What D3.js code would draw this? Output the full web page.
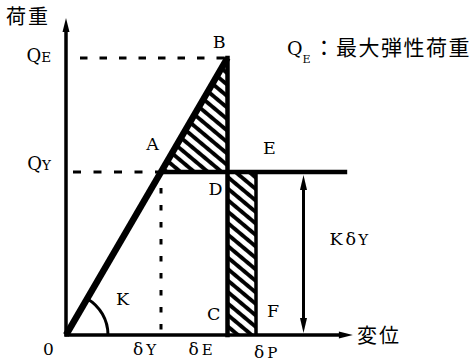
<!DOCTYPE html>
<html><head><meta charset="utf-8">
<script src="https://cdn.jsdelivr.net/npm/d3@7"></script>
<style>body{margin:0;background:#fff}svg{display:block}</style>
</head><body><svg id="c" width="470" height="361"></svg>
<script>
// ---- data (conceptual load–displacement diagram) ----
const xTickValues = [1.0, 1.7, 2.0];
const xTickSubs = ["Y", "E", "P"];
const yTickValues = [1.0, 1.7];
const yTickSubs = ["Y", "E"];
const elasticLine = [[0, 0], [1.7, 1.7]];
const unloadLine = [[1.7, 1.7], [1.7, 0]];
const yieldLine = [[1.0, 1.0], [2.96, 1.0]];
const plasticEdge = [[2.0, 1.0], [2.0, 0]];
const triangleArea = [[1.0, 1.0], [1.7, 1.7], [1.7, 1.0]];
const rectArea = [[1.7, 1.0], [2.0, 1.0], [2.0, 0], [1.7, 0]];
const pointNames = ["A", "B", "C", "D", "E", "F"];
const pointX = [1.0, 1.7, 1.7, 1.7, 2.0, 2.0];
const pointY = [1.0, 1.7, 0, 1.0, 1.0, 0];
const kArrowX = 2.5;
const xAxisEnd = 3.02, yAxisEnd = 1.945;

const svg = d3.select("#c");
const x = d3.scaleLinear().domain([0, 3]).range([66, 351]);
const y = d3.scaleLinear().domain([0, 2]).range([335, 9]);
const line = d3.line().x(d => x(d[0])).y(d => y(d[1]));
const serif = "'DejaVu Serif', 'Liberation Serif', serif";
const cjk = "'Noto Sans CJK JP', sans-serif";

// hatch pattern
const defs = svg.append("defs");
const pat = defs.append("pattern").attr("id", "hatch")
  .attr("patternUnits", "userSpaceOnUse").attr("width", 8.8).attr("height", 20)
  .attr("patternTransform", "rotate(-50)");
pat.append("rect").attr("width", 8.8).attr("height", 20).attr("fill", "#fff");
pat.append("line").attr("x1", 2).attr("x2", 2).attr("y1", 0).attr("y2", 20)
  .attr("stroke", "#000").attr("stroke-width", 3.9);

svg.append("path").attr("d", line(triangleArea) + "Z").attr("fill", "url(#hatch)");
svg.append("path").attr("d", line(rectArea) + "Z").attr("fill", "url(#hatch)");

// dashed guides
const x0 = x(0), y0 = y(0);
svg.append("line").attr("x1", x0 + 14).attr("x2", x(1.7) - 3)
  .attr("y1", y(1.7)).attr("y2", y(1.7))
  .attr("stroke", "#000").attr("stroke-width", 3).attr("stroke-dasharray", "7.5,12");
svg.append("line").attr("x1", x0 + 7).attr("x2", x(1.0) - 3)
  .attr("y1", y(1.0)).attr("y2", y(1.0))
  .attr("stroke", "#000").attr("stroke-width", 3).attr("stroke-dasharray", "8,12.5");
svg.append("line").attr("x1", x(1.0)).attr("x2", x(1.0))
  .attr("y1", y(1.0) + 16).attr("y2", y0)
  .attr("stroke", "#000").attr("stroke-width", 3).attr("stroke-dasharray", "5.5,11.5");

// axes with arrows
function arrowHead(tx, ty, dx, dy, len, hw) {
  const px = -dy, py = dx;
  return `M${tx},${ty}L${tx - dx * len + px * hw},${ty - dy * len + py * hw}L${tx - dx * len - px * hw},${ty - dy * len - py * hw}Z`;
}
svg.append("line").attr("x1", x0).attr("x2", x0).attr("y1", y0 + 1.5).attr("y2", y(yAxisEnd) + 8)
  .attr("stroke", "#000").attr("stroke-width", 3.5);
svg.append("path").attr("d", arrowHead(x0, y(yAxisEnd), 0, -1, 14, 3.5));
svg.append("line").attr("x1", x0 - 1.5).attr("x2", x(xAxisEnd) - 8).attr("y1", y0).attr("y2", y0)
  .attr("stroke", "#000").attr("stroke-width", 3.5);
svg.append("path").attr("d", arrowHead(x(xAxisEnd), y0, 1, 0, 14, 3.5));

// structural lines
svg.append("path").attr("d", line(yieldLine)).attr("stroke", "#000").attr("stroke-width", 4.5).attr("fill", "none");
svg.append("path").attr("d", line(plasticEdge)).attr("stroke", "#000").attr("stroke-width", 3.5).attr("fill", "none");
svg.append("path").attr("d", line(unloadLine)).attr("stroke", "#000").attr("stroke-width", 4.5).attr("fill", "none")
  .attr("stroke-linecap", "square");
svg.append("path").attr("d", line(elasticLine)).attr("stroke", "#000").attr("stroke-width", 6.5).attr("fill", "none");

// angle arc K
const ang = Math.atan2(y(0) - y(1), x(1) - x(0));
const r = 42;
svg.append("path")
  .attr("d", `M${x0 + r},${y0}A${r},${r} 0 0 0 ${x0 + r * Math.cos(ang)},${y0 - r * Math.sin(ang)}`)
  .attr("stroke", "#000").attr("stroke-width", 3).attr("fill", "none");

// K delta Y double arrow
const ka = x(kArrowX);
svg.append("line").attr("x1", ka).attr("x2", ka).attr("y1", y(1) + 14).attr("y2", y0 - 14)
  .attr("stroke", "#000").attr("stroke-width", 3);
svg.append("path").attr("d", arrowHead(ka, y(1) + 3, 0, -1, 15, 3.5));
svg.append("path").attr("d", arrowHead(ka, y0 - 2, 0, 1, 15, 3.5));

// point labels
const labelPos = {A: [-2, -22, "end"], B: [-2, -10, "end"], C: [-7, -15, "end"],
  D: [-5, 23, "end"], E: [7, -18, "start"], F: [11, -18, "start"]};
pointNames.forEach((n, i) => {
  const o = labelPos[n];
  svg.append("text").attr("x", x(pointX[i]) + o[0]).attr("y", y(pointY[i]) + o[1])
    .attr("text-anchor", o[2]).attr("font-family", serif).attr("font-size", 17.5).text(n);
});

// x tick labels
const xOff = [[-28, 355], [-39, 355], [-2, 358]];
xTickValues.forEach((v, i) => {
  const t = svg.append("text").attr("x", x(v) + xOff[i][0]).attr("y", xOff[i][1])
    .attr("font-family", serif).attr("font-size", 17);
  t.append("tspan").text("δ");
  t.append("tspan").attr("dx", 3).attr("font-size", 15).text(xTickSubs[i]);
});
// y tick labels
yTickValues.forEach((v, i) => {
  const t = svg.append("text").attr("x", 51).attr("y", y(v) + (i === 1 ? 4 : -2))
    .attr("text-anchor", "end").attr("font-family", serif).attr("font-size", 18);
  t.append("tspan").text("Q");
  t.append("tspan").attr("font-size", 13.5).text(yTickSubs[i]);
});

// origin, K, K delta Y
svg.append("text").attr("x", x0 - 23).attr("y", 355).attr("font-family", serif).attr("font-size", 17).text("0");
svg.append("text").attr("x", x0 + 50).attr("y", 305).attr("font-family", serif).attr("font-size", 17.5).text("K");
const kt = svg.append("text").attr("x", ka + 26).attr("y", 245).attr("font-family", serif).attr("font-size", 17.5);
kt.append("tspan").text("K");
kt.append("tspan").attr("dx", 3).text("δ");
kt.append("tspan").attr("dx", 2).attr("font-size", 15).text("Y");

// axis titles
svg.append("text").attr("x", 6).attr("y", 24).attr("font-family", cjk).attr("font-size", 20)
  .attr("letter-spacing", 2).text("荷重");
svg.append("text").attr("x", 357).attr("y", 343).attr("font-family", cjk).attr("font-size", 20)
  .attr("letter-spacing", 2).text("変位");

// legend note
const lt = svg.append("text").attr("x", 287).attr("y", 55).attr("font-family", serif).attr("font-size", 19);
lt.append("tspan").text("Q");
lt.append("tspan").attr("font-size", 11).attr("dy", 8).text("E");
lt.append("tspan").attr("dy", -8).attr("dx", 3).attr("font-family", cjk).attr("font-size", 21)
  .attr("letter-spacing", 1.5).text("：最大弾性荷重");
</script></body></html>
